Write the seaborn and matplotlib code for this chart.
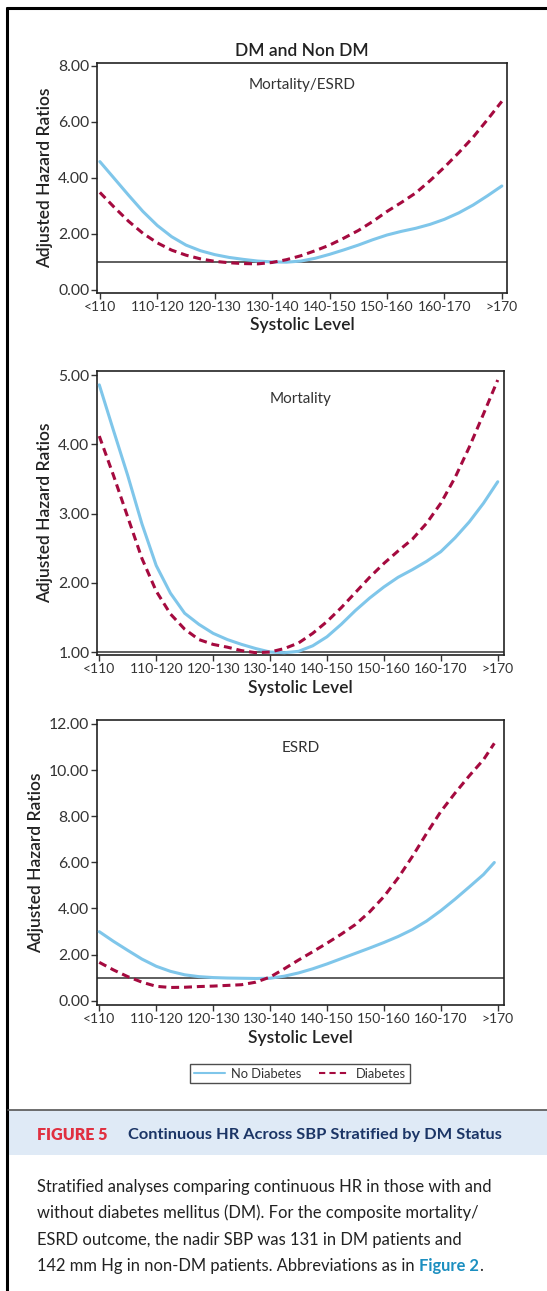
import numpy as np
import pandas as pd
import matplotlib
matplotlib.use("Agg")
import matplotlib.pyplot as plt
import seaborn as sns
from matplotlib.lines import Line2D
from matplotlib.patches import Rectangle

# ---------------- data ----------------
categories = ['<110', '110-120', '120-130', '130-140', '140-150',
              '150-160', '160-170', '>170']
x_pos = [0, 0.25, 0.5, 0.75, 1, 1.25, 1.5, 1.75, 2, 2.25, 2.5, 2.75, 3,
         3.25, 3.5, 3.75, 4, 4.25, 4.5, 4.75, 5, 5.25, 5.5, 5.75, 6, 6.25,
         6.5, 6.75, 7]

comp_nodm = [4.58, 3.98, 3.38, 2.80, 2.30, 1.90, 1.60, 1.40, 1.26, 1.16,
             1.09, 1.03, 1.00, 0.99, 1.03, 1.13, 1.27, 1.43, 1.60, 1.79,
             1.96, 2.09, 2.20, 2.34, 2.52, 2.75, 3.03, 3.36, 3.71]
comp_dm = [3.48, 2.95, 2.45, 2.02, 1.68, 1.42, 1.24, 1.11, 1.02, 0.97,
           0.94, 0.93, 0.98, 1.08, 1.22, 1.40, 1.60, 1.85, 2.12, 2.44,
           2.80, 3.12, 3.46, 3.90, 4.38, 4.90, 5.45, 6.08, 6.73]

mort_nodm = [4.86, 4.20, 3.55, 2.85, 2.25, 1.85, 1.56, 1.40, 1.27, 1.18,
             1.11, 1.05, 1.00, 0.99, 1.01, 1.09, 1.22, 1.40, 1.60, 1.78,
             1.94, 2.08, 2.19, 2.31, 2.45, 2.65, 2.88, 3.15, 3.46]
mort_dm = [4.12, 3.55, 2.95, 2.35, 1.88, 1.55, 1.33, 1.18, 1.11, 1.07,
           1.02, 0.99, 1.00, 1.05, 1.13, 1.27, 1.44, 1.64, 1.86, 2.08,
           2.28, 2.46, 2.63, 2.86, 3.15, 3.52, 3.96, 4.44, 4.93]

esrd_x = [0, 0.25, 0.5, 0.75, 1, 1.25, 1.5, 1.75, 2, 2.25, 2.5, 2.75, 3,
          3.25, 3.5, 3.75, 4, 4.25, 4.5, 4.75, 5, 5.25, 5.5, 5.75, 6, 6.25,
          6.5, 6.75, 6.94]
esrd_nodm = [2.99, 2.57, 2.18, 1.80, 1.49, 1.27, 1.12, 1.04, 1.00, 0.98,
             0.97, 0.96, 0.97, 1.06, 1.20, 1.38, 1.59, 1.82, 2.05, 2.28,
             2.52, 2.78, 3.08, 3.45, 3.90, 4.40, 4.93, 5.47, 5.99]
esrd_dm = [1.66, 1.33, 1.04, 0.80, 0.62, 0.57, 0.58, 0.61, 0.63, 0.66,
           0.69, 0.80, 1.02, 1.38, 1.76, 2.12, 2.49, 2.88, 3.30, 3.85,
           4.51, 5.32, 6.25, 7.25, 8.20, 9.00, 9.75, 10.45, 11.16]

groups = ['No Diabetes', 'Diabetes']
panel_titles = ['Mortality/ESRD', 'Mortality', 'ESRD']
y_ticks = [[0, 2, 4, 6, 8], [1, 2, 3, 4, 5], [0, 2, 4, 6, 8, 10, 12]]

BLUE = '#7fc6ea'
RED = '#a50a3f'

def make_df(xs, nodm, dm):
    return pd.DataFrame({
        'x': list(xs) + list(xs),
        'hr': list(nodm) + list(dm),
        'group': [groups[0]] * len(xs) + [groups[1]] * len(xs),
    })

dfs = [make_df(x_pos, comp_nodm, comp_dm),
       make_df(x_pos, mort_nodm, mort_dm),
       make_df(esrd_x, esrd_nodm, esrd_dm)]

# ---------------- style ----------------
sns.set_theme(style='white')
plt.rcParams['font.family'] = ['Lato', 'DejaVu Sans']
plt.rcParams['axes.edgecolor'] = '#222222'
plt.rcParams['axes.linewidth'] = 1.2

W, H = 547, 1291
fig = plt.figure(figsize=(W / 100, H / 100), dpi=100)

def ax_rect(left, right, top, bottom):
    return [left / W, 1 - bottom / H, (right - left) / W, (bottom - top) / H]

rects = [ax_rect(97, 507, 63, 293), ax_rect(97, 504, 371, 655),
         ax_rect(97, 504, 720, 1005)]
ylims = [(-0.11, 8.1), (0.957, 5.06), (-0.19, 12.17)]
xlims = [(-0.05, 7.09), (-0.04, 7.11), (-0.04, 7.11)]
label_y = [0.905, 0.9, 0.9]
LABEL_W = 600

for i in range(3):
    ax = fig.add_axes(rects[i])
    ax.axhline(1, color='#333333', lw=1.1, zorder=1)
    sns.lineplot(data=dfs[i], x='x', y='hr', hue='group', style='group',
                 palette={groups[0]: BLUE, groups[1]: RED},
                 dashes={groups[0]: '', groups[1]: (2.6, 1.6)},
                 linewidth=2.2, legend=False, ax=ax, zorder=3)
    ax.set_xlim(*xlims[i])
    ax.set_ylim(*ylims[i])
    ax.set_xticks(range(len(categories)))
    ax.set_xticklabels(categories)
    ax.set_yticks(y_ticks[i])
    ax.set_yticklabels([f'{v:.2f}' for v in y_ticks[i]])
    ax.tick_params(axis='both', which='major', direction='out', length=4,
                   width=1, color='#333333', labelsize=10.0,
                   labelcolor='#333333', pad=2, bottom=True, left=True)
    ax.tick_params(axis='y', labelsize=11.3, pad=1.5)
    ax.set_xlabel('Systolic Level', fontsize=12.5, fontweight=LABEL_W,
                  color='#222222', labelpad=3)
    ax.set_ylabel('Adjusted Hazard Ratios', fontsize=12.5,
                  fontweight=LABEL_W, color='#222222', labelpad=4)
    ax.text(0.5, label_y[i], panel_titles[i], transform=ax.transAxes,
            ha='center', va='center', fontsize=11, color='#333333')
    if i == 0:
        ax.set_title('DM and Non DM', fontsize=12.5, fontweight=LABEL_W,
                     color='#222222', pad=5)
    if i == 2:
        handles = [Line2D([], [], color=BLUE, lw=1.5),
                   Line2D([], [], color=RED, lw=1.5, ls=(0, (3, 2)))]
        leg = fig.legend(handles, groups, loc='center',
                         bbox_to_anchor=(300 / W, 1 - 1073.5 / H),
                         ncol=2, frameon=True, fontsize=9.3,
                         handlelength=2.4, columnspacing=1.3,
                         borderpad=0.3, handletextpad=0.5,
                         fancybox=False, edgecolor='#222222')
        leg.get_frame().set_linewidth(1.0)
        for t in leg.get_texts():
            t.set_color('#333333')

# ---------------- frame & caption ----------------
fig.add_artist(Line2D([7 / W, 7 / W], [0, 1 - 8 / H], color='black', lw=2.2))
fig.add_artist(Line2D([7 / W, 1], [1 - 8 / H, 1 - 8 / H], color='black', lw=2.2))
fig.add_artist(Rectangle((8 / W, 1 - 1155 / H), 1, 45 / H,
                         facecolor='#dfeaf6', edgecolor='none'))
fig.add_artist(Line2D([8 / W, 1], [1 - 1110 / H, 1 - 1110 / H],
                      color='#555555', lw=1.2))

fig.text(37 / W, 1 - 1135 / H, 'FIGURE 5', fontsize=11.5,
         fontweight='heavy', color='#e03040', va='center', ha='left')
fig.text(128 / W, 1 - 1135 / H,
         'Continuous HR Across SBP Stratified by DM Status',
         fontsize=11.8, fontweight='bold', color='#1b3566', va='center',
         ha='left')

caption = ['Stratified analyses comparing continuous HR in those with and',
           'without diabetes mellitus (DM). For the composite mortality/',
           'ESRD outcome, the nadir SBP was 131 in DM patients and']
cap_y = [1187, 1213, 1240]
for line, y in zip(caption, cap_y):
    fig.text(37 / W, 1 - y / H, line, fontsize=11.9, color='#222222',
             va='center', ha='left')
t = fig.text(37 / W, 1 - 1266 / H,
             '142 mm Hg in non-DM patients. Abbreviations as in ',
             fontsize=11.9, color='#222222', va='center', ha='left')
fig.canvas.draw()
bb = t.get_window_extent()
x_end = bb.x1 / fig.bbox.width
t2 = fig.text(x_end, 1 - 1266 / H, 'Figure 2', fontsize=11.9,
              fontweight='bold', color='#1c8fc0', va='center', ha='left')
fig.canvas.draw()
bb2 = t2.get_window_extent()
fig.text(bb2.x1 / fig.bbox.width, 1 - 1266 / H, '.', fontsize=11.9,
         color='#222222', va='center', ha='left')

fig.savefig('out.png', dpi=100)
